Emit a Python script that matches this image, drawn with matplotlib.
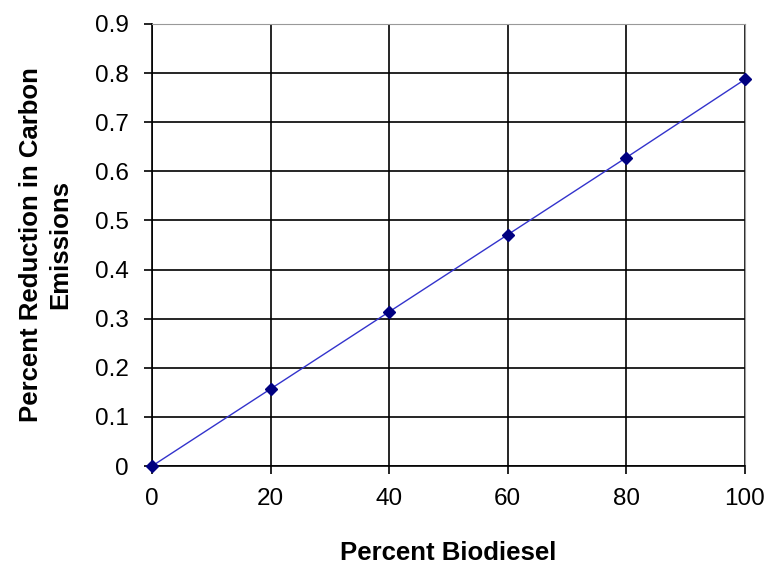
import matplotlib
matplotlib.use("Agg")
import matplotlib.pyplot as plt

plt.rcParams['font.family'] = ['Liberation Sans', 'DejaVu Sans']

biodiesel = [0, 20, 40, 60, 80, 100]
reduction = [0, 0.157, 0.314, 0.471, 0.628, 0.787]

fig = plt.figure(figsize=(7.68, 5.69), dpi=100)
ax = fig.add_axes([0.198, 0.181, 0.772, 0.777])

ax.plot(biodiesel, reduction, color='#3333cc', lw=1, marker='D',
        markersize=6, markerfacecolor='#000080', markeredgecolor='#000080',
        zorder=3, clip_on=False)

ax.set_xlim(0, 100)
ax.set_ylim(0, 0.9)
ax.set_xticks(range(0, 101, 20))
ax.set_yticks([i / 10 for i in range(10)])
ax.set_yticklabels(['0'] + ['0.%d' % i for i in range(1, 10)])

ax.grid(True, color='black', lw=1.2)
ax.set_axisbelow(True)
for side in ('top', 'right'):
    ax.spines[side].set_color('#999999')
for side in ('left', 'bottom'):
    ax.spines[side].set_color('black')
    ax.spines[side].set_linewidth(1.2)

ax.tick_params(axis='both', direction='out', length=6, width=1.2,
               labelsize=17.5, colors='black')
ax.tick_params(axis='x', pad=10)
ax.tick_params(axis='y', pad=11)

ax.set_xlabel('Percent Biodiesel', fontsize=18.5, fontweight='bold', labelpad=22)
ax.set_ylabel('Percent Reduction in Carbon\nEmissions', fontsize=18.5,
              fontweight='bold', labelpad=16, linespacing=1.3)

fig.savefig('out.png', dpi=100)
